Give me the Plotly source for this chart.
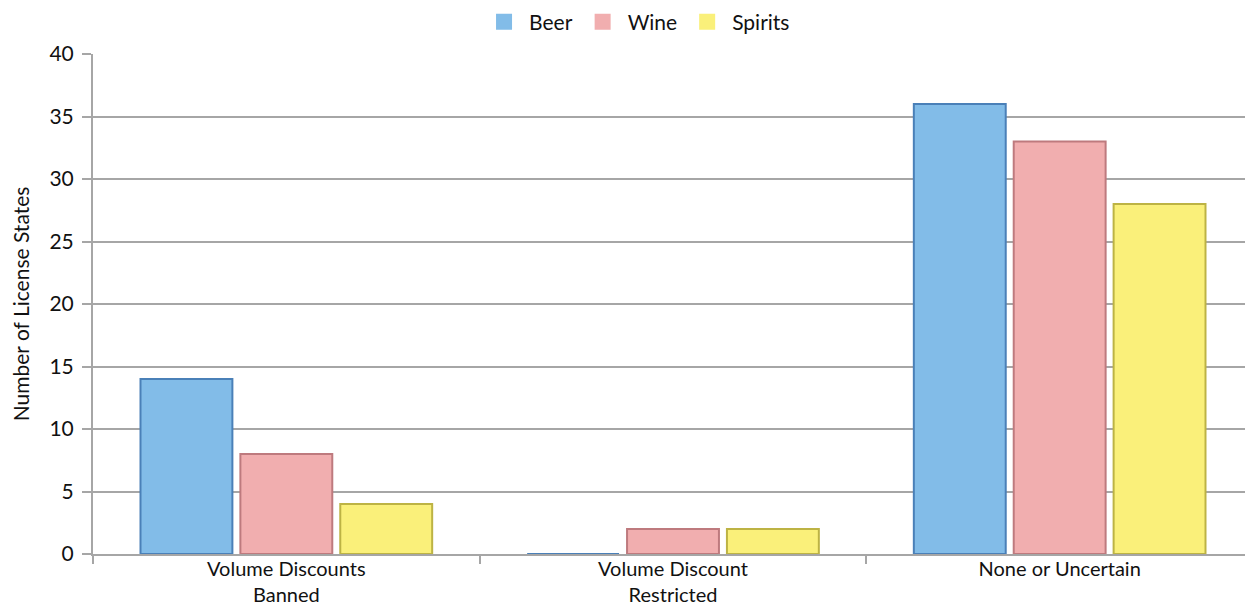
import plotly.graph_objects as go

categories = ["Volume Discounts<br>Banned", "Volume Discount<br>Restricted", "None or Uncertain"]
series_names = ["Beer", "Wine", "Spirits"]
beer = [14, 0, 36]
wine = [8, 2, 33]
spirits = [4, 2, 28]
y_ticks = [0, 5, 10, 15, 20, 25, 30, 35, 40]

FONT = "Lato, Open Sans, sans-serif"
fills = ["#82BCE8", "#F1AEAF", "#FAF07A"]
edges = ["#4A80B8", "#BE7A7E", "#BDB344"]

fig = go.Figure()
for name, vals, fc, ec in zip(series_names, [beer, wine, spirits], fills, edges):
    fig.add_trace(go.Bar(name=name, x=categories, y=vals, showlegend=False,
                         marker=dict(color=fc, line=dict(color=ec, width=2))))
# legend swatches
for name, fc in zip(series_names, fills):
    fig.add_trace(go.Scatter(name=name, x=[None], y=[None], mode="markers",
                             marker=dict(symbol="square", size=22, color=fc),
                             showlegend=True))

fig.update_layout(
    width=1245, height=603,
    barmode="group", bargap=0.225, bargroupgap=0.08,
    plot_bgcolor="white", paper_bgcolor="white",
    margin=dict(l=85, r=0, t=46, b=57, autoexpand=False),
    font=dict(family=FONT, size=21, color="#111111"),
    legend=dict(orientation="h", x=0.469, xanchor="center", y=1.064, yanchor="middle",
                font=dict(size=21), itemwidth=40, tracegroupgap=0),
    xaxis=dict(showline=True, linecolor="#A6A6A6", linewidth=2, automargin=False,
               ticks="outside", tickson="boundaries", ticklen=8, tickcolor="#A6A6A6",
               tickwidth=2, tickfont=dict(size=20), ticklabelstandoff=-4),
    yaxis=dict(range=[0, 40], tickvals=y_ticks, showgrid=True, gridcolor="#A6A6A6",
               gridwidth=2, showline=True, linecolor="#A6A6A6", linewidth=2,
               ticks="outside", ticklen=9, tickcolor="#A6A6A6", tickwidth=2,
               zeroline=False, automargin=False, tickfont=dict(size=21),
               ticklabelstandoff=4,
               title=dict(text="Number of License States", font=dict(size=21), standoff=26)),
)

fig.write_html("out.html")
